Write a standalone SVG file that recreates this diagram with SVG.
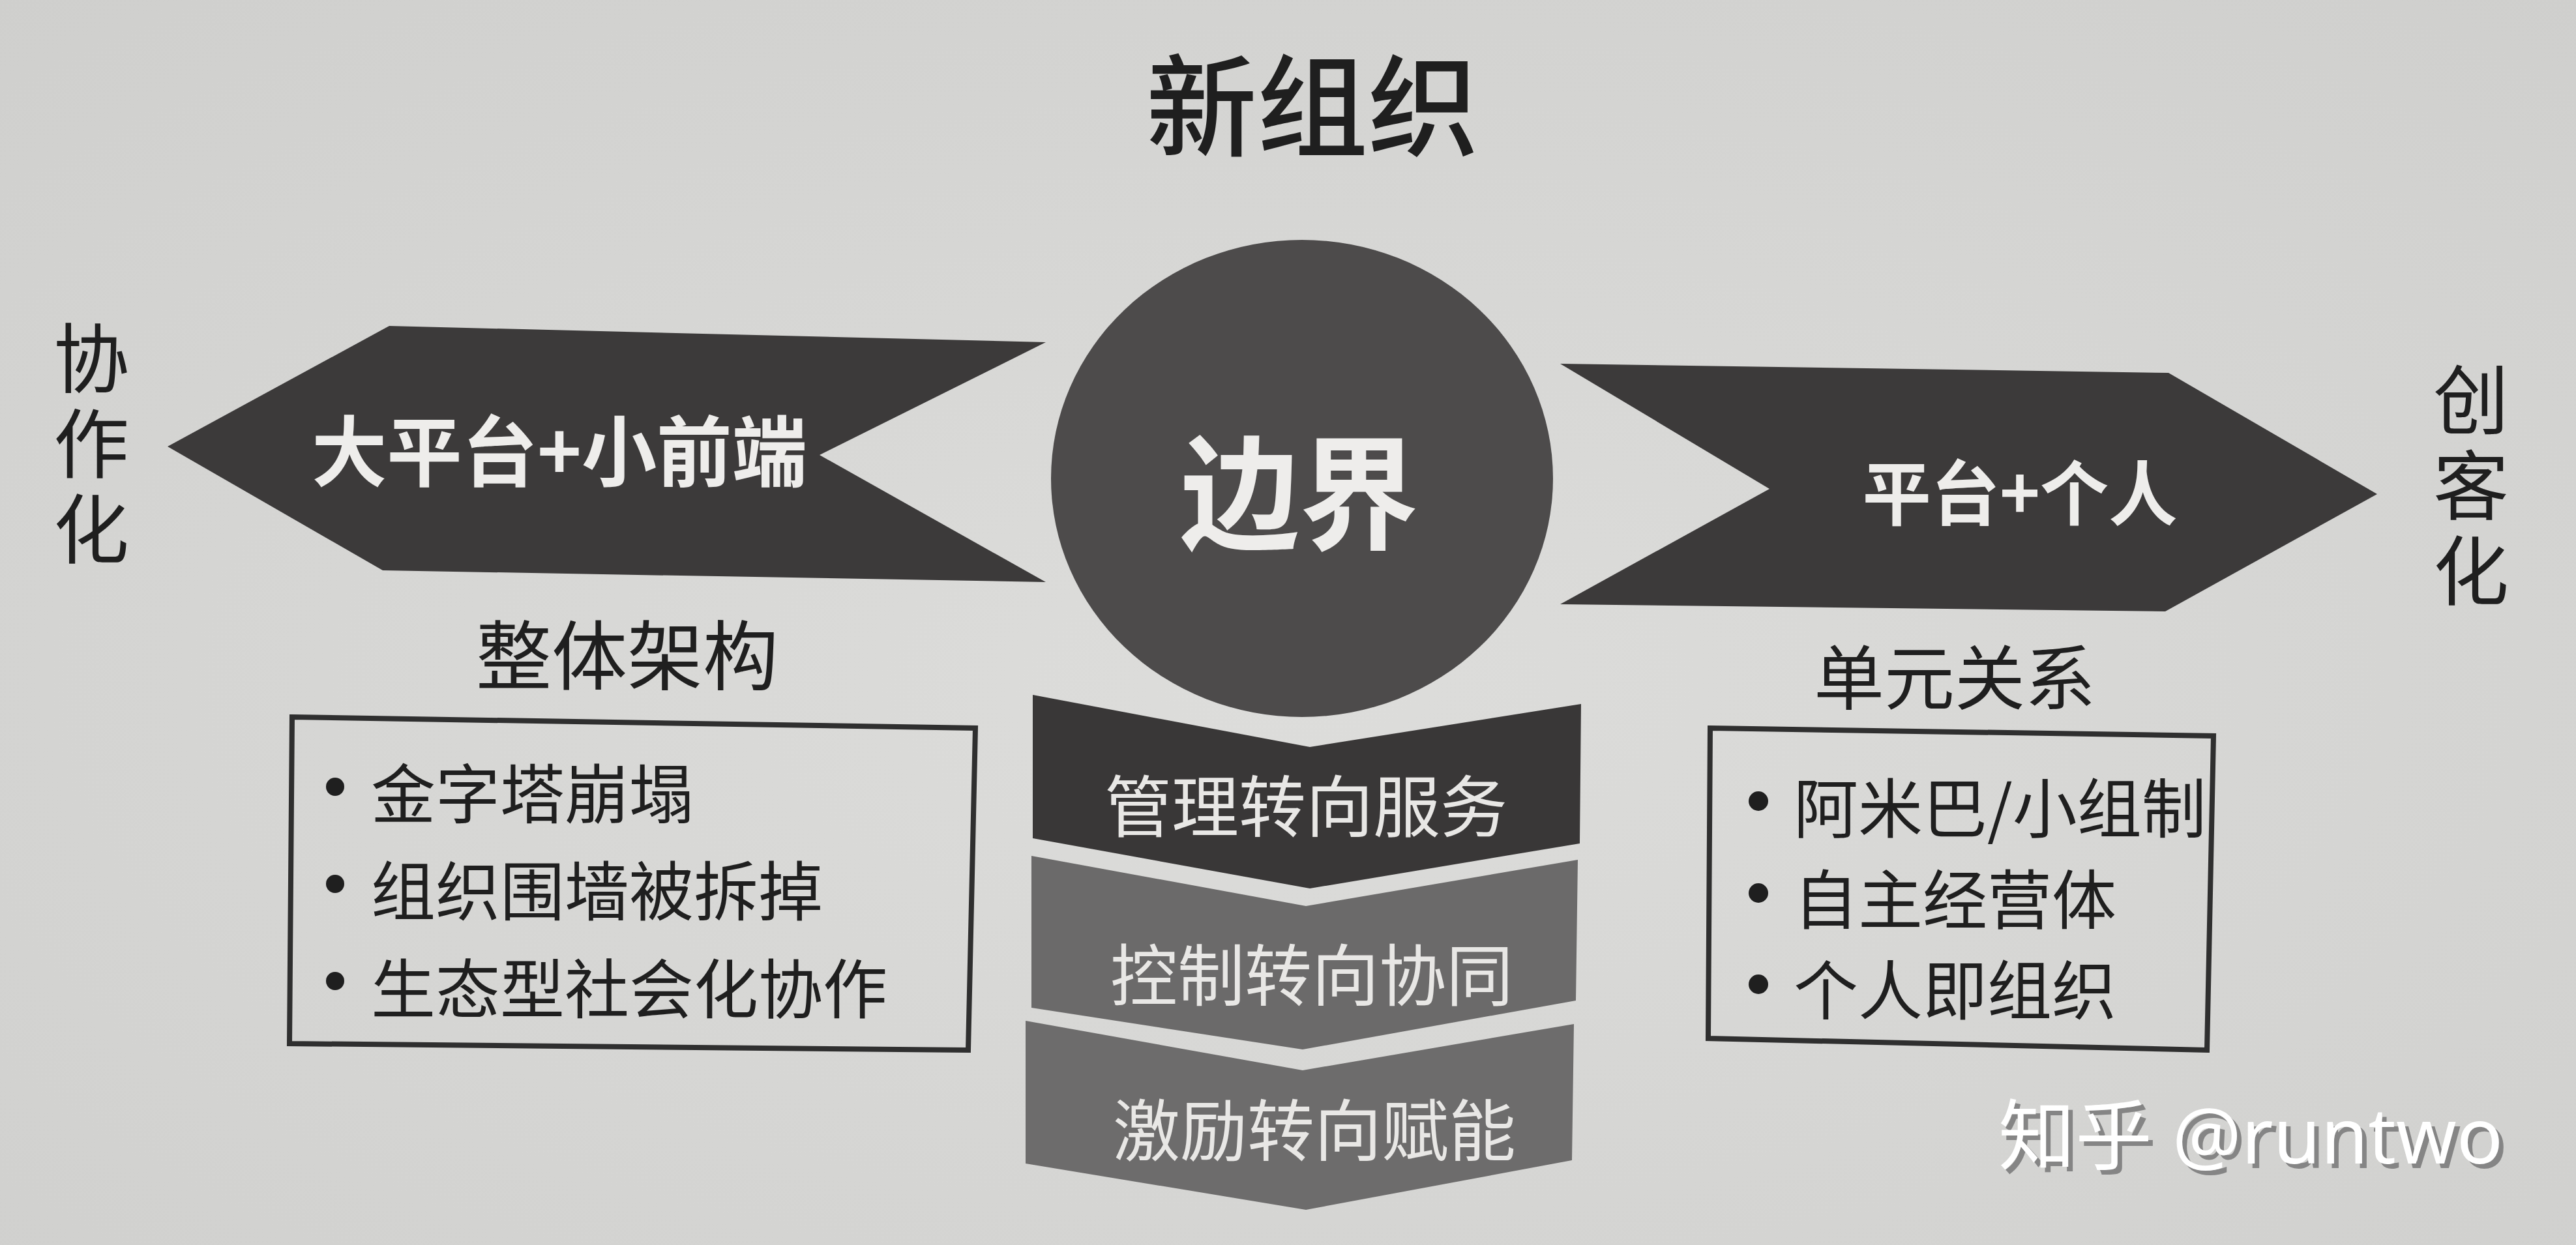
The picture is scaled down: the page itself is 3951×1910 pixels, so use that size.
<svg xmlns="http://www.w3.org/2000/svg" width="3951" height="1910" viewBox="0 0 3951 1910">
  <defs>
    <radialGradient id="paper" cx="0.5" cy="0.55" r="0.75">
      <stop offset="0" stop-color="#dddddb"/>
      <stop offset="1" stop-color="#cfcfcd"/>
    </radialGradient>
    <style>
      .cjk { font-family: "Noto Sans CJK SC", "Noto Sans", sans-serif; }
      .dark { fill: #1f1f1f; }
      .light { fill: #eeedeb; }
      .shape-dark { fill: #3c3a3a; }
      .box { fill: none; stroke: #2f2f2f; stroke-width: 8; stroke-linejoin: miter; }
      .bullet { fill: #1f1f1f; }
      .item { font-size: 99px; fill: #1f1f1f; dominant-baseline: central; }
      .vert { font-size: 116px; fill: #1f1f1f; writing-mode: vertical-rl; letter-spacing: 15px; }
      .chev-text { font-size: 103px; fill: #e8e7e5; text-anchor: middle; dominant-baseline: central; }
    </style>
  </defs>

  <rect x="0" y="0" width="3951" height="1910" fill="url(#paper)"/>

  <g id="title">
    <text class="cjk dark" x="2013" y="153" font-size="170" font-weight="500" text-anchor="middle" dominant-baseline="central">新组织</text>
  </g>

  <g id="left-label">
    <text class="cjk vert" x="140" y="491">协作化</text>
  </g>

  <g id="right-label">
    <text class="cjk vert" x="3790" y="555">创客化</text>
  </g>

  <g id="left-arrow">
    <polygon class="shape-dark" points="257,685 597,500 1604,525 1257,698 1604,893 587,875"/>
    <text class="cjk light" x="858" y="685" font-size="118" font-weight="700" text-anchor="middle" dominant-baseline="central" textLength="760" lengthAdjust="spacingAndGlyphs">大平台+小前端</text>
  </g>

  <g id="center-circle">
    <ellipse cx="1997" cy="734" rx="385" ry="366" fill="#4d4b4b"/>
    <text class="cjk light" x="1993" y="745" font-size="190" font-weight="700" text-anchor="middle" dominant-baseline="central" textLength="365" lengthAdjust="spacingAndGlyphs">边界</text>
  </g>

  <g id="right-arrow">
    <polygon class="shape-dark" points="2393,558 3326,572 3646,758 3321,938 2393,927 2714,750"/>
    <text class="cjk light" x="3098" y="750" font-size="108" font-weight="700" text-anchor="middle" dominant-baseline="central" textLength="483" lengthAdjust="spacingAndGlyphs">平台+个人</text>
  </g>

  <g id="left-panel">
    <text class="cjk dark" x="962" y="998" font-size="116" text-anchor="middle" dominant-baseline="central">整体架构</text>
    <polygon class="box" points="448,1100 1496,1117 1485,1611 444,1601"/>
    <circle class="bullet" cx="514" cy="1207" r="14"/>
    <circle class="bullet" cx="514" cy="1356" r="14"/>
    <circle class="bullet" cx="514" cy="1505" r="14"/>
    <text class="cjk item" x="569" y="1212">金字塔崩塌</text>
    <text class="cjk item" x="569" y="1361">组织围墙被拆掉</text>
    <text class="cjk item" x="569" y="1511">生态型社会化协作</text>
  </g>

  <g id="right-panel">
    <text class="cjk dark" x="2998" y="1033" font-size="108" text-anchor="middle" dominant-baseline="central">单元关系</text>
    <polygon class="box" points="2623,1117 3395,1129 3385,1611 2620,1593"/>
    <circle class="bullet" cx="2697" cy="1229" r="15"/>
    <circle class="bullet" cx="2697" cy="1370" r="15"/>
    <circle class="bullet" cx="2697" cy="1510" r="15"/>
    <text class="cjk item" x="2751" y="1234" font-size="95">阿米巴/小组制</text>
    <text class="cjk item" x="2751" y="1374" font-size="95">自主经营体</text>
    <text class="cjk item" x="2751" y="1513" font-size="95">个人即组织</text>
  </g>

  <g id="chevron-1">
    <polygon fill="#393737" points="1584,1066 2009,1146 2425,1080 2423,1294 2009,1363 1584,1286"/>
    <text class="cjk chev-text" x="2003" y="1231">管理转向服务</text>
  </g>
  <g id="chevron-2">
    <polygon fill="#6b6a6a" points="1582,1313 2003,1390 2420,1319 2417,1535 1998,1610 1582,1546"/>
    <text class="cjk chev-text" x="2012" y="1490">控制转向协同</text>
  </g>
  <g id="chevron-3">
    <polygon fill="#6d6c6c" points="1573,1566 1998,1642 2414,1571 2411,1780 2003,1856 1573,1785"/>
    <text class="cjk chev-text" x="2016" y="1728">激励转向赋能</text>
  </g>

  <g id="connectors"></g>

  <g id="watermark">
    <text x="3072" y="1792" font-family="'Noto Sans', 'Noto Sans CJK SC', sans-serif" font-size="118" fill="#858585">知乎 @runtwo</text>
    <text x="3065" y="1785" font-family="'Noto Sans', 'Noto Sans CJK SC', sans-serif" font-size="118" fill="#ffffff">知乎 @runtwo</text>
  </g>
</svg>
